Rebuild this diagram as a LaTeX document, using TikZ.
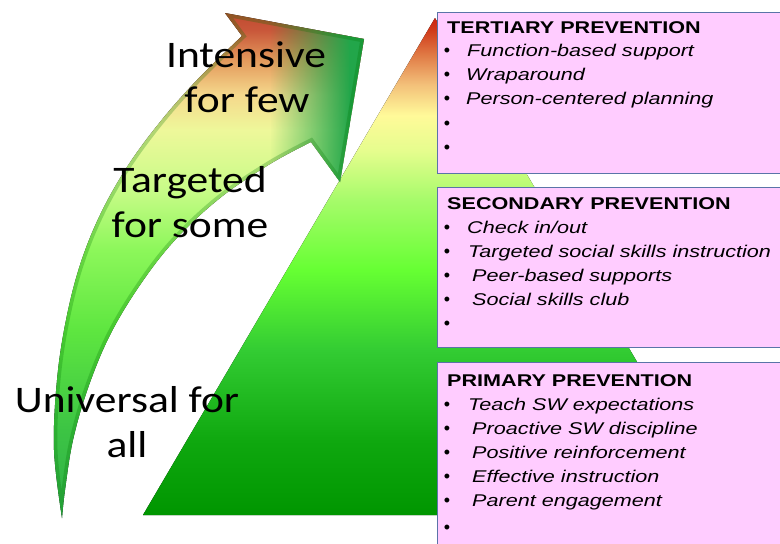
\documentclass[tikz,border=0pt]{standalone}
\usepackage{fontspec}
\setmainfont{Liberation Sans}
\newfontfamily\calfont{Carlito}
\usepackage{graphicx}
\usetikzlibrary{fadings}
\definecolor{boxpink}{HTML}{FFCCFF}
\definecolor{boxline}{HTML}{5A74A8}
\definecolor{headgreen}{HTML}{22A64A}
% triangle colours
\definecolor{ta}{HTML}{009600}
\definecolor{tb}{HTML}{0FA80F}
\definecolor{tc}{HTML}{33CC33}
\definecolor{td}{HTML}{66FF33}
\definecolor{te}{HTML}{A6FB6A}
\definecolor{tf}{HTML}{E6FD8E}
\definecolor{tg}{HTML}{FFFA99}
\definecolor{th}{HTML}{F3C07A}
\definecolor{ti}{HTML}{E07A45}
\definecolor{tj}{HTML}{D03A1A}
\definecolor{tk}{HTML}{CC2211}
% arrow colours
\definecolor{aa}{HTML}{2FAE4A}
\definecolor{ab}{HTML}{3CC444}
\definecolor{ac}{HTML}{5EE640}
\definecolor{ad}{HTML}{8CF75A}
\definecolor{ae}{HTML}{C8FB88}
\definecolor{af}{HTML}{EEF89A}
\definecolor{ag}{HTML}{F5D88C}
\definecolor{ah}{HTML}{E39A5C}
\definecolor{ai}{HTML}{C9573A}
\definecolor{aj}{HTML}{C04A30}
\pgfdeclareverticalshading{trishade}{100bp}{color(0bp)=(ta); color(25bp)=(ta); color(32.5bp)=(tb); color(41.6bp)=(tc); color(49.6bp)=(td); color(56.7bp)=(te); color(61.7bp)=(tf); color(65.2bp)=(tg); color(68.3bp)=(th); color(71.3bp)=(ti); color(73.8bp)=(tj); color(75bp)=(tk); color(100bp)=(tk)}
\pgfdeclareverticalshading{arrshade}{100bp}{color(0bp)=(aa); color(25bp)=(aa); color(33.7bp)=(ab); color(43.6bp)=(ac); color(51.5bp)=(ad); color(57.5bp)=(ae); color(63.4bp)=(af); color(66.9bp)=(ag); color(70.3bp)=(ah); color(73.3bp)=(ai); color(75bp)=(aj); color(100bp)=(aj)}
\tikzfading[name=fadeR, left color=transparent!100, right color=transparent!0]
\newcommand\sxb[1]{\scalebox{1.27}[1]{#1}}
\newcommand\sxc[1]{\scalebox{1.16}[1]{#1}}
\tikzset{
  boxstyle/.style={fill=boxpink, draw=boxline, line width=0.9pt},
  headtxt/.style={anchor=base west, inner sep=0pt, font=\fontsize{17}{20}\selectfont\bfseries},
  itemtxt/.style={anchor=base west, inner sep=0pt, font=\fontsize{17}{20}\selectfont\itshape, text=black},
  bultxt/.style={anchor=base, inner sep=0pt, font=\fontsize{18}{20}\selectfont},
  bigtxt/.style={anchor=base, inner sep=0pt, font=\calfont\fontsize{37.5}{44}\selectfont}
}
\def\arrowpath{(62,518) -- plot[smooth, tension=0.6] coordinates {(62,518) (54,450) (57,380) (66,320) (80,265) (100,215) (127,167) (160,122) (197,80) (242,36)} -- (225,13) -- (364,39) -- (340,182) -- (311,142) -- plot[smooth, tension=0.6] coordinates {(311,142) (270,164) (220,198) (175,240) (140,285) (110,335) (88,388) (73,440) (65,490) (62,518)} -- cycle}
\begin{document}
\begin{tikzpicture}[x=1pt, y=-1pt]
\useasboundingbox (0,0) rectangle (780,544);
\fill[white] (0,0) rectangle (780,544);
\begin{scope}
\clip (0,0) rectangle (780,544);
% pyramid
\fill[shading=trishade] (143,515) -- (435,18) -- (727,515) -- cycle;
% curved arrow
\fill[shading=arrshade] \arrowpath;
\begin{scope}
  \clip \arrowpath;
  \fill[headgreen, path fading=fadeR] (270,5) rectangle (350,190);
  \fill[headgreen] (349,5) rectangle (380,190);
  \draw[green!45!black, opacity=0.25, line width=7pt] \arrowpath;
\end{scope}
% boxes
\draw[boxstyle] (437,12) rectangle (800,173);
\draw[boxstyle] (437,187) rectangle (800,347);
\draw[boxstyle] (437,362) rectangle (800,560);
\end{scope}
% left labels
\node[bigtxt] (int1) at (246,67) {\sxc{Intensive}};
\node[bigtxt] (int2) at (247,112) {\sxc{for few}};
\node[bigtxt] (tar1) at (190,192) {\sxc{Targeted}};
\node[bigtxt] (tar2) at (190,237) {\sxc{for some}};
\node[bigtxt] (uni1) at (127,412) {\sxc{Universal for}};
\node[bigtxt] (uni2) at (127,457) {\sxc{all}};
% tertiary
\node[headtxt] (th) at (447,33) {\sxb{TERTIARY PREVENTION}};
\node[bultxt] (tb1) at (447,56) {•};
\node[itemtxt] (ti1) at (467,56) {\sxb{Function-based support}};
\node[bultxt] (tb2) at (447,80) {•};
\node[itemtxt] (ti2) at (466,80) {\sxb{Wraparound}};
\node[bultxt] (tb3) at (447,104) {•};
\node[itemtxt] (ti3) at (466,104) {\sxb{Person-centered planning}};
\node[bultxt] (tb4) at (447,129) {•};
\node[bultxt] (tb5) at (447,153) {•};
% secondary
\node[headtxt] (sh) at (447,209) {\sxb{SECONDARY PREVENTION}};
\node[bultxt] (sb1) at (447,233) {•};
\node[itemtxt] (si1) at (467,233) {\sxb{Check in/out}};
\node[bultxt] (sb2) at (447,257) {•};
\node[itemtxt] (si2) at (468,257) {\sxb{Targeted social skills instruction}};
\node[bultxt] (sb3) at (447,281) {•};
\node[itemtxt] (si3) at (472,281) {\sxb{Peer-based supports}};
\node[bultxt] (sb4) at (447,305) {•};
\node[itemtxt] (si4) at (472,305) {\sxb{Social skills club}};
\node[bultxt] (sb5) at (447,329) {•};
% primary
\node[headtxt] (ph) at (447,386) {\sxb{PRIMARY PREVENTION}};
\node[bultxt] (pb1) at (447,410) {•};
\node[itemtxt] (pi1) at (468,410) {\sxb{Teach SW expectations}};
\node[bultxt] (pb2) at (447,434) {•};
\node[itemtxt] (pi2) at (472,434) {\sxb{Proactive SW discipline}};
\node[bultxt] (pb3) at (447,458) {•};
\node[itemtxt] (pi3) at (472,458) {\sxb{Positive reinforcement}};
\node[bultxt] (pb4) at (447,482) {•};
\node[itemtxt] (pi4) at (472,482) {\sxb{Effective instruction}};
\node[bultxt] (pb5) at (447,506) {•};
\node[itemtxt] (pi5) at (472,506) {\sxb{Parent engagement}};
\node[bultxt] (pb6) at (447,533) {•};
\end{tikzpicture}
\end{document}
